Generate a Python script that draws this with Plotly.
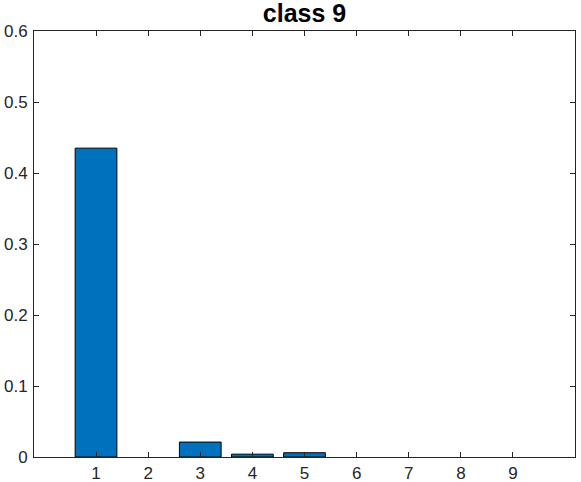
import plotly.graph_objects as go

categories = [1, 2, 3, 4, 5, 6, 7, 8, 9]
values = [0.435, 0.0, 0.021, 0.004, 0.006, 0.0, 0.0, 0.0, 0.0]
y_ticks = [0, 0.1, 0.2, 0.3, 0.4, 0.5, 0.6]
y_tick_labels = ["0", "0.1", "0.2", "0.3", "0.4", "0.5", "0.6"]
title_text = "class 9"

outline_widths = [1 if v > 0 else 0 for v in values]

fig = go.Figure()
fig.add_trace(go.Bar(
    x=categories, y=values, width=0.8,
    marker=dict(color="#0072BD", line=dict(color="black", width=outline_widths)),
))

axis_common = dict(
    showline=True, linecolor="#262626", linewidth=1, mirror="ticks",
    ticks="inside", ticklen=5, tickcolor="#262626", tickwidth=1,
    showgrid=False, zeroline=False, automargin=False,
    tickfont=dict(family="Liberation Sans, Arial", size=17, color="#262626"),
)

fig.update_layout(
    width=581, height=482,
    margin=dict(l=34, r=6, t=31, b=25),
    paper_bgcolor="white", plot_bgcolor="white",
    showlegend=False,
    title=dict(text="<b>" + title_text + "</b>", x=0.5, xref="paper", xanchor="center",
               y=1 - 13 / 482, yanchor="middle",
               font=dict(family="Liberation Sans, Arial", size=25, color="black")),
    xaxis=dict(range=[-0.19, 10.19], tickvals=categories, ticklabelstandoff=1,
               ticktext=[str(c) for c in categories], **axis_common),
    yaxis=dict(range=[0, 0.6], tickvals=y_ticks, ticktext=y_tick_labels,
               ticklabelstandoff=2, **axis_common),
)

fig.write_html("out.html", config={"displayModeBar": False},
               post_script="document.body.style.margin='0';")
